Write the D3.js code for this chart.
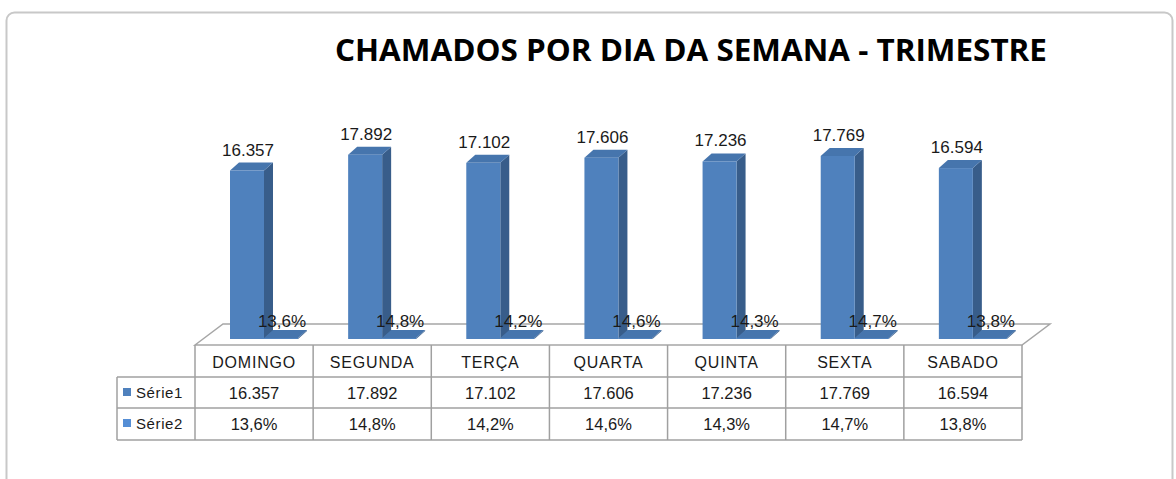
<!DOCTYPE html>
<html>
<head>
<meta charset="utf-8">
<script src="https://cdn.jsdelivr.net/npm/d3@7"></script>
<style>
  body { margin: 0; background: #fff; }
  text { font-family: "Liberation Sans", "DejaVu Sans", sans-serif; }
</style>
</head>
<body>
<script>
// Chart data
var days = ["DOMINGO", "SEGUNDA", "TERÇA", "QUARTA", "QUINTA", "SEXTA", "SABADO"];
var serie1 = [16357, 17892, 17102, 17606, 17236, 17769, 16594];
var serie2 = [13.6, 14.8, 14.2, 14.6, 14.3, 14.7, 13.8];
var seriesNames = ["Série1", "Série2"];
var title = "CHAMADOS POR DIA DA SEMANA - TRIMESTRE";

var width = 1176, height = 479;

var fmt1 = function(v) { return d3.format(",")(v).replace(/,/g, "."); };
var fmt2 = function(v) { return d3.format(".1f")(v).replace(".", ",") + "%"; };

var svg = d3.select("body").append("svg")
    .attr("width", width)
    .attr("height", height);

// outer chart border (rounded)
svg.append("rect")
    .attr("x", 6.5).attr("y", 12.5)
    .attr("width", 1166).attr("height", 500)
    .attr("rx", 8)
    .style("fill", "#fff")
    .style("stroke", "#c8c8c8")
    .style("stroke-width", 2);

// title
svg.append("text")
    .attr("x", 335)
    .attr("y", 61)
    .attr("textLength", 712)
    .attr("lengthAdjust", "spacingAndGlyphs")
    .style("font-family", "'Open Sans', sans-serif")
    .style("font-weight", "bold")
    .style("font-size", "31px")
    .style("fill", "#000")
    .text(title);

// scales
var x = d3.scaleBand()
    .domain(days)
    .range([195, 1022])
    .paddingInner(0).paddingOuter(0);

var xs = d3.scaleBand()
    .domain([0, 1])
    .range([35, 103]);

var y = d3.scaleLinear()
    .domain([0, 20000])
    .range([339, 133]);

var depth = {dx: 9, dy: -8};
var floorDepth = {dx: 28, dy: -21};

// floor
var fy = 345;
svg.append("path")
    .attr("d", "M" + x.range()[0] + "," + fy +
               "L" + (x.range()[0] + floorDepth.dx) + "," + (fy + floorDepth.dy) +
               "L" + (x.range()[1] + floorDepth.dx) + "," + (fy + floorDepth.dy) +
               "L" + x.range()[1] + "," + fy + "Z")
    .style("fill", "#fff")
    .style("stroke", "#a6a6a6")
    .style("stroke-width", 1.5);

// bars
var colors = {
  front: ["#4f81bd", "#4f81bd"],
  side: ["#385d8a", "#385d8a"],
  top: ["#4675ad", "#4675ad"]
};

var barData = [];
days.forEach(function(d, i) {
  barData.push({day: d, s: 0, v: serie1[i], h: serie1[i]});
  barData.push({day: d, s: 1, v: serie2[i], h: serie2[i]});
});

var bars = svg.selectAll("g.bar")
    .data(barData)
    .enter().append("g")
    .attr("class", "bar");

bars.each(function(d) {
  var g = d3.select(this);
  var x0 = x(d.day) + xs(d.s);
  var w = xs.bandwidth();
  var yb = y(0);
  var yt = Math.min(y(d.h), yb - 1);
  // side
  g.append("path")
    .attr("d", "M" + (x0 + w) + "," + yb +
               "L" + (x0 + w + depth.dx) + "," + (yb + depth.dy) +
               "L" + (x0 + w + depth.dx) + "," + (yt + depth.dy) +
               "L" + (x0 + w) + "," + yt + "Z")
    .style("fill", colors.side[d.s]);
  // top
  g.append("path")
    .attr("d", "M" + x0 + "," + yt +
               "L" + (x0 + depth.dx) + "," + (yt + depth.dy) +
               "L" + (x0 + w + depth.dx) + "," + (yt + depth.dy) +
               "L" + (x0 + w) + "," + yt + "Z")
    .style("fill", colors.top[d.s]);
  // front
  g.append("rect")
    .attr("x", x0).attr("y", yt)
    .attr("width", w).attr("height", yb - yt)
    .style("fill", colors.front[d.s]);
});

// data labels
svg.selectAll("text.lbl")
    .data(barData)
    .enter().append("text")
    .attr("class", "lbl")
    .attr("x", function(d) { return x(d.day) + xs(d.s) + xs.bandwidth() / 2 + 1; })
    .attr("y", function(d) { return y(d.h) - (d.s === 0 ? 15 : 12); })
    .attr("text-anchor", "middle")
    .style("font-size", "17px")
    .style("fill", "#1a1a1a")
    .text(function(d) { return d.s === 0 ? fmt1(d.v) : fmt2(d.v); });

// data table
var rowTop = [345, 377, 408, 440];
var legendX = 117;
var lineColor = "#a0a0a0";
var table = svg.append("g");

// horizontal lines
table.append("line")
    .attr("x1", legendX).attr("x2", x.range()[1])
    .attr("y1", rowTop[1]).attr("y2", rowTop[1]);
table.append("line")
    .attr("x1", legendX).attr("x2", x.range()[1])
    .attr("y1", rowTop[2]).attr("y2", rowTop[2]);
table.append("line")
    .attr("x1", legendX).attr("x2", x.range()[1])
    .attr("y1", rowTop[3]).attr("y2", rowTop[3]);
// vertical lines
table.append("line")
    .attr("x1", legendX).attr("x2", legendX)
    .attr("y1", rowTop[1]).attr("y2", rowTop[3]);
days.concat(["end"]).forEach(function(d, i) {
  var xx = i < days.length ? x(d) : x.range()[1];
  table.append("line")
    .attr("x1", xx).attr("x2", xx)
    .attr("y1", rowTop[0]).attr("y2", rowTop[3]);
});
table.selectAll("line")
    .style("stroke", lineColor)
    .style("stroke-width", 1.5);

// header
table.selectAll("text.hdr")
    .data(days)
    .enter().append("text")
    .attr("class", "hdr")
    .attr("x", function(d) { return x(d) + x.bandwidth() / 2; })
    .attr("y", 368)
    .attr("text-anchor", "middle")
    .style("font-size", "16px")
    .style("letter-spacing", "0.8px")
    .style("fill", "#1a1a1a")
    .text(function(d) { return d; });

// value rows
[serie1, serie2].forEach(function(arr, r) {
  table.selectAll("text.r" + r)
      .data(arr)
      .enter().append("text")
      .attr("class", "r" + r)
      .attr("x", function(d, i) { return x(days[i]) + x.bandwidth() / 2; })
      .attr("y", rowTop[r + 1] + 22)
      .attr("text-anchor", "middle")
      .style("font-size", "16.5px")
      .style("fill", "#1a1a1a")
      .text(function(d) { return r === 0 ? fmt1(d) : fmt2(d); });

  table.append("rect")
      .attr("x", 123).attr("y", rowTop[r + 1] + 11)
      .attr("width", 8).attr("height", 8)
      .style("fill", r === 0 ? "#4f81bd" : "#558ed5");
  table.append("text")
      .attr("x", 136)
      .attr("y", rowTop[r + 1] + 21)
      .style("font-size", "15px")
      .style("letter-spacing", "0.6px")
      .style("fill", "#1a1a1a")
      .text(seriesNames[r]);
});
</script>
</body>
</html>
